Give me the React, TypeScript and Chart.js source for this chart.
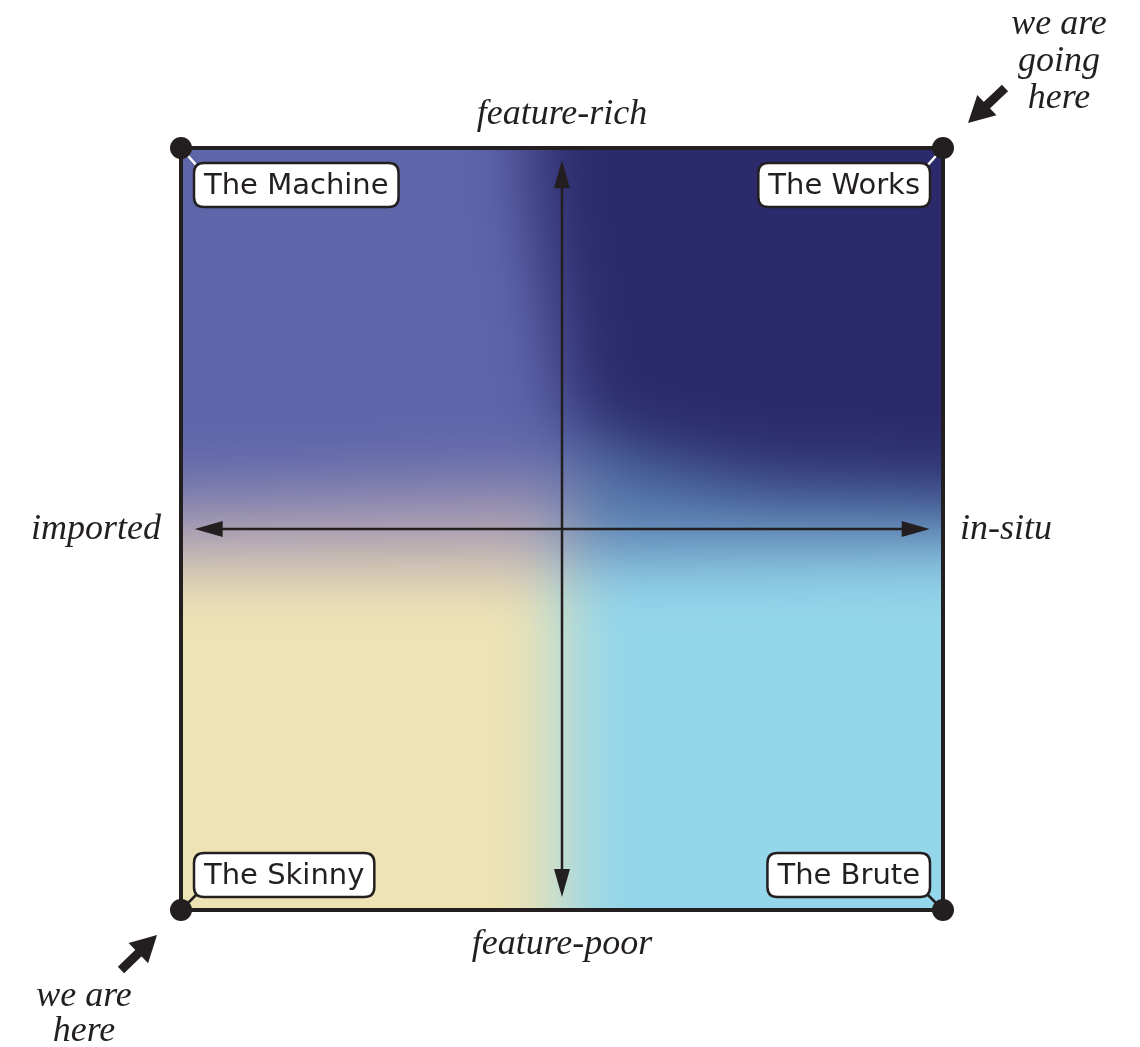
import React, { useEffect, useRef } from "react";
import { Chart, registerables } from "chart.js";

Chart.register(...registerables);

// corner points of the quadrant frame
const cornerX = [-1, 1, -1, 1];
const cornerY = [1, 1, -1, -1];
const quadrantNames = ["The Machine", "The Works", "The Skinny", "The Brute"];
const axisLabels = { top: "feature-rich", bottom: "feature-poor", left: "imported", right: "in-situ" };
const goingLines = ["we are", "going", "here"];
const hereLines = ["we are", "here"];

const INK = "#231f20";
const SERIF = "italic 36px 'Liberation Serif', 'DejaVu Serif', serif";
const SANS = "29px 'DejaVu Sans', sans-serif";

function drawArrowHead(ctx: CanvasRenderingContext2D, tx: number, ty: number, angle: number, len: number, half: number) {
  ctx.save();
  ctx.translate(tx, ty);
  ctx.rotate(angle);
  ctx.beginPath();
  ctx.moveTo(0, 0);
  ctx.lineTo(-len, -half);
  ctx.lineTo(-len, half);
  ctx.closePath();
  ctx.fill();
  ctx.restore();
}

function drawAxisArrow(ctx: CanvasRenderingContext2D, x1: number, y1: number, x2: number, y2: number) {
  const a = Math.atan2(y2 - y1, x2 - x1);
  ctx.beginPath();
  ctx.moveTo(x1, y1);
  ctx.lineTo(x2 - Math.cos(a) * 24, y2 - Math.sin(a) * 24);
  ctx.stroke();
  drawArrowHead(ctx, x2, y2, a, 28, 8);
}

function roundRect(ctx: CanvasRenderingContext2D, x: number, y: number, w: number, h: number, r: number) {
  ctx.beginPath();
  ctx.moveTo(x + r, y);
  ctx.lineTo(x + w - r, y);
  ctx.quadraticCurveTo(x + w, y, x + w, y + r);
  ctx.lineTo(x + w, y + h - r);
  ctx.quadraticCurveTo(x + w, y + h, x + w - r, y + h);
  ctx.lineTo(x + r, y + h);
  ctx.quadraticCurveTo(x, y + h, x, y + h - r);
  ctx.lineTo(x, y + r);
  ctx.quadraticCurveTo(x, y, x + r, y);
  ctx.closePath();
}

function boxRect(ctx: CanvasRenderingContext2D, i: number, area: any) {
  ctx.font = SANS;
  const w = ctx.measureText(quadrantNames[i]).width + 20;
  const h = 44;
  const inset = 13;
  const left = cornerX[i] < 0;
  const top = cornerY[i] > 0;
  const x = left ? area.left + inset : area.right - inset - w;
  const y = top ? area.top + 15 : area.bottom - 13 - h;
  return { x, y, w, h, left, top };
}

const quadrantPlugin = {
  id: "quadrant",
  beforeDatasetsDraw(chart: any) {
    const { ctx, chartArea: a, scales } = chart;
    const W = a.right - a.left;
    const H = a.bottom - a.top;
    const m = 150;
    const off = document.createElement("canvas");
    off.width = W + 2 * m;
    off.height = H + 2 * m;
    const o = off.getContext("2d")!;
    const cx = scales.x.getPixelForValue(0);
    const cy = scales.y.getPixelForValue(0);
    o.translate(m - a.left, m - a.top);
    const L = a.left - m, R = a.right + m, T = a.top - m, B = a.bottom + m;
    const poly = (pts: number[][], col: string) => {
      o.fillStyle = col;
      o.beginPath();
      pts.forEach((p, k) => (k ? o.lineTo(p[0], p[1]) : o.moveTo(p[0], p[1])));
      o.closePath();
      o.fill();
    };
    // bottom colours
    poly([[L, T], [cx, T], [cx, B], [L, B]], "#eee3b4");
    poly([[cx, T], [R, T], [R, B], [cx, B]], "#94d6ea");
    // transition bands
    poly([[L, T], [cx + 10, T], [cx + 10, cy + 35], [L, cy + 35]], "#aa9db3");
    poly([[cx + 10, T], [R, T], [R, cy + 15], [cx + 10, cy + 25]], "#5577ac");
    // top-left
    poly([[L, T], [cx + 10, T], [cx + 10, cy - 45], [L, cy - 25]], "#5e66aa");
    // top-right, darkest
    poly(
      [[cx - 35, T], [R, T], [R, cy - 30], [cx + 200, cy - 45], [cx + 60, cy - 75], [cx + 5, cy - 110], [cx - 5, a.top + 200], [cx - 30, a.top + 40]],
      "#2b2b6b"
    );
    ctx.save();
    ctx.beginPath();
    ctx.rect(a.left, a.top, W, H);
    ctx.clip();
    ctx.filter = "blur(34px)";
    ctx.drawImage(off, a.left - m, a.top - m);
    ctx.filter = "none";
    ctx.restore();

    // axes
    ctx.save();
    ctx.strokeStyle = INK;
    ctx.fillStyle = INK;
    ctx.lineWidth = 2.5;
    const xl = scales.x.getPixelForValue(-0.964);
    const xr = scales.x.getPixelForValue(0.965);
    const yt = scales.y.getPixelForValue(0.968);
    const yb = scales.y.getPixelForValue(-0.966);
    drawAxisArrow(ctx, cx, cy, xr, cy);
    drawAxisArrow(ctx, cx, cy, xl, cy);
    drawAxisArrow(ctx, cx, cy, cx, yt);
    drawAxisArrow(ctx, cx, cy, cx, yb);

    // frame
    ctx.lineWidth = 4;
    ctx.strokeRect(a.left, a.top, W, H);

    // connectors
    ctx.lineWidth = 2.5;
    for (let i = 0; i < quadrantNames.length; i++) {
      const b = boxRect(ctx, i, a);
      const px = scales.x.getPixelForValue(cornerX[i]);
      const py = scales.y.getPixelForValue(cornerY[i]);
      const bx = b.left ? b.x + 4 : b.x + b.w - 4;
      const by = b.top ? b.y + 4 : b.y + b.h - 4;
      ctx.strokeStyle = b.top ? "#ffffff" : INK;
      ctx.beginPath();
      ctx.moveTo(px, py);
      ctx.lineTo(bx, by);
      ctx.stroke();
    }
    ctx.restore();
  },
  afterDatasetsDraw(chart: any) {
    const { ctx, chartArea: a } = chart;
    ctx.save();
    for (let i = 0; i < quadrantNames.length; i++) {
      const b = boxRect(ctx, i, a);
      roundRect(ctx, b.x, b.y, b.w, b.h, 10);
      ctx.fillStyle = "#ffffff";
      ctx.fill();
      ctx.lineWidth = 2.5;
      ctx.strokeStyle = INK;
      ctx.stroke();
      ctx.fillStyle = INK;
      ctx.font = SANS;
      ctx.textAlign = "center";
      ctx.textBaseline = "middle";
      ctx.fillText(quadrantNames[i], b.x + b.w / 2, b.y + b.h / 2 + 1);
    }
    ctx.restore();
  },
  afterDraw(chart: any) {
    const { ctx, chartArea: a, scales } = chart;
    const cx = scales.x.getPixelForValue(0);
    const cy = scales.y.getPixelForValue(0);
    ctx.save();
    ctx.fillStyle = INK;
    ctx.font = SERIF;
    ctx.textBaseline = "alphabetic";
    ctx.textAlign = "center";
    ctx.fillText(axisLabels.top, cx, a.top - 24);
    ctx.fillText(axisLabels.bottom, cx, a.bottom + 44);
    ctx.textAlign = "right";
    ctx.fillText(axisLabels.left, a.left - 20, cy + 10);
    ctx.textAlign = "left";
    ctx.fillText(axisLabels.right, a.right + 17, cy + 10);
    ctx.textAlign = "center";
    goingLines.forEach((t, k) => ctx.fillText(t, a.right + 116, 34 + k * 37));
    hereLines.forEach((t, k) => ctx.fillText(t, a.left - 97, a.bottom + 96 + k * 35));

    // pointer arrows
    ctx.strokeStyle = INK;
    ctx.lineWidth = 9;
    const pointer = (x1: number, y1: number, x2: number, y2: number) => {
      const ang = Math.atan2(y2 - y1, x2 - x1);
      ctx.beginPath();
      ctx.moveTo(x1, y1);
      ctx.lineTo(x2 - Math.cos(ang) * 16, y2 - Math.sin(ang) * 16);
      ctx.stroke();
      ctx.save();
      ctx.translate(x2, y2);
      ctx.rotate(ang);
      ctx.beginPath();
      ctx.moveTo(0, 0);
      ctx.lineTo(-26, -14);
      ctx.lineTo(-26, 14);
      ctx.closePath();
      ctx.fill();
      ctx.restore();
    };
    pointer(a.right + 62, a.top - 60, a.right + 25, a.top - 25);
    pointer(a.left - 60, a.bottom + 60, a.left - 24, a.bottom + 25);
    ctx.restore();
  },
};

export default function App() {
  const ref = useRef<HTMLCanvasElement | null>(null);
  useEffect(() => {
    if (!ref.current) return;
    const chart = new Chart(ref.current, {
      type: "scatter",
      data: {
        datasets: [
          {
            data: cornerX.map((x, i) => ({ x, y: cornerY[i] })),
            pointRadius: 11,
            pointBackgroundColor: INK,
            pointBorderWidth: 0,
            clip: false as any,
          },
        ],
      },
      options: {
        animation: false,
        responsive: false,
        devicePixelRatio: 1,
        layout: { padding: { left: 181, right: 197, top: 148, bottom: 137 } },
        plugins: { legend: { display: false }, tooltip: { enabled: false } },
        scales: {
          x: { type: "linear", min: -1, max: 1, display: false },
          y: { type: "linear", min: -1, max: 1, display: false },
        },
      },
      plugins: [quadrantPlugin],
    });
    return () => chart.destroy();
  }, []);
  return (
    <div style={{ position: "absolute", left: 0, top: 0, width: 1140, height: 1047, background: "#fff" }}>
      <canvas ref={ref} width={1140} height={1047} style={{ display: "block" }} />
    </div>
  );
}
